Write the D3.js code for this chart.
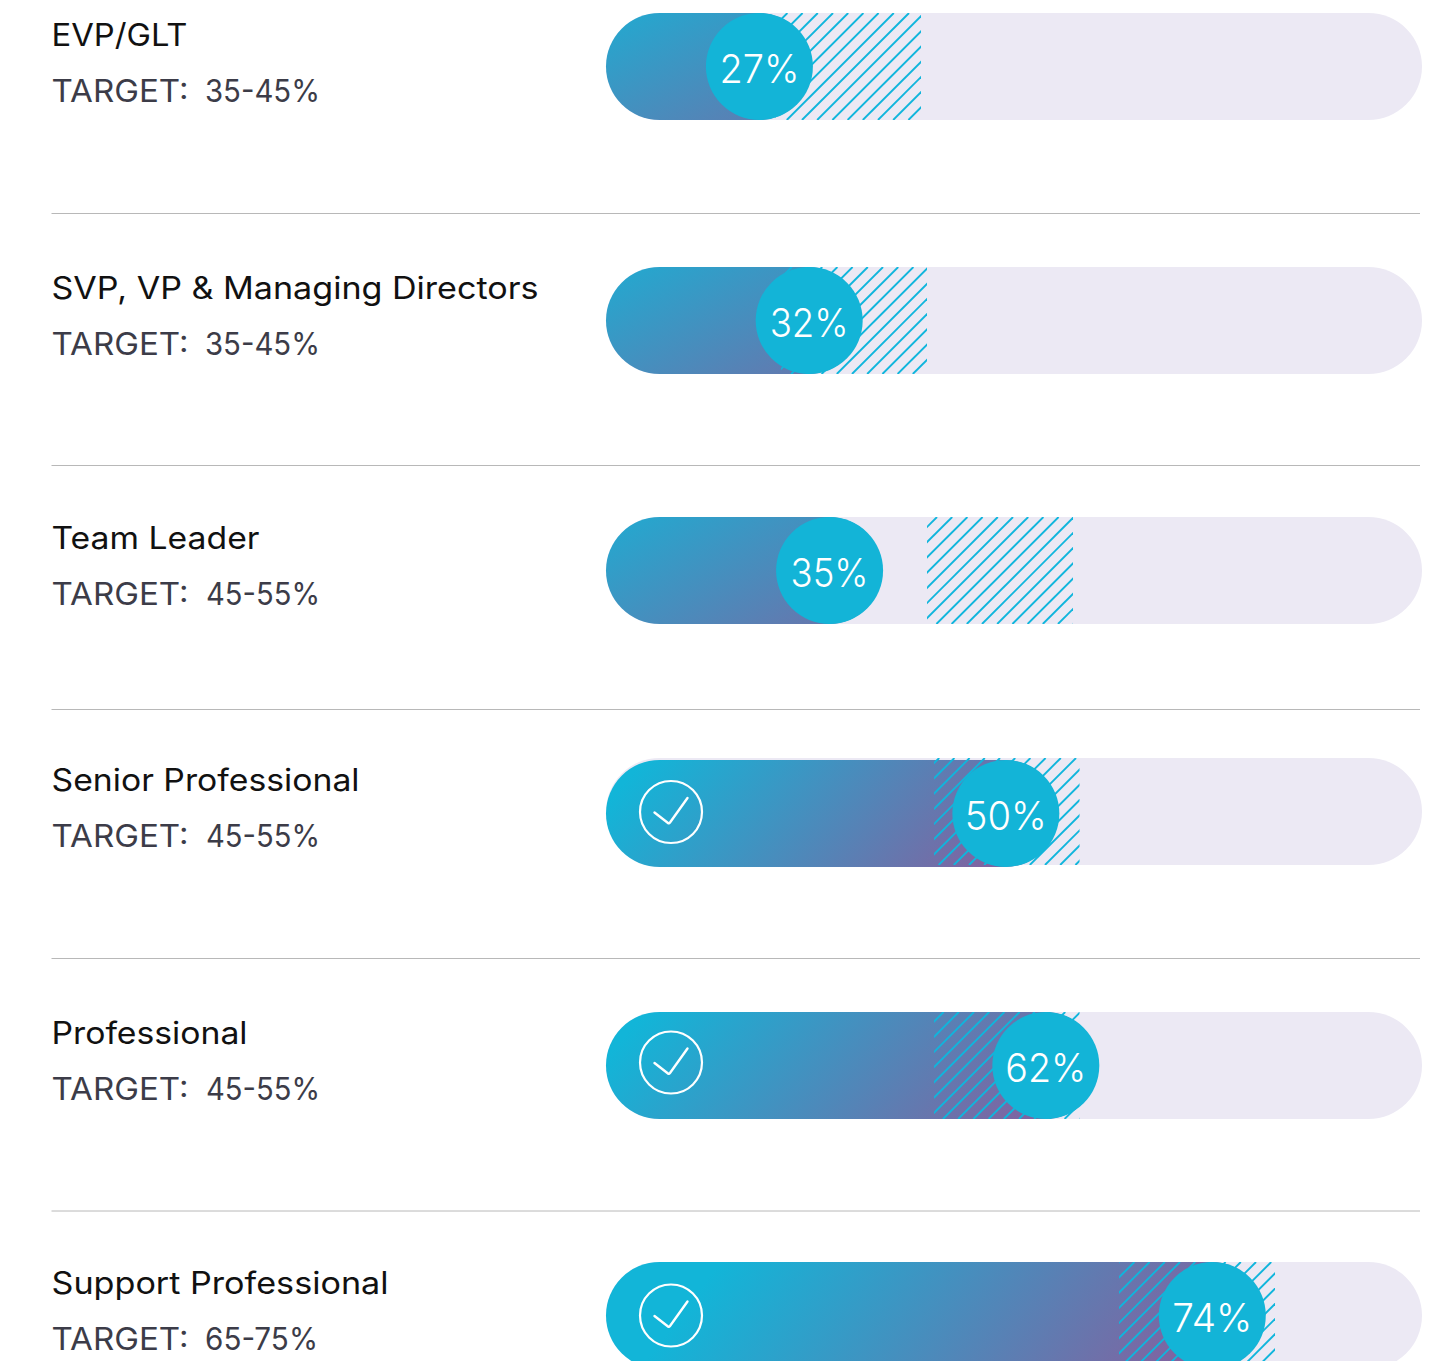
<!DOCTYPE html>
<html>
<head>
<meta charset="utf-8">
<script src="https://cdn.jsdelivr.net/npm/d3@7"></script>
<style>
  html, body { margin: 0; padding: 0; background: #fff; overflow: hidden; }
  text { font-family: Inter, "Open Sans", sans-serif; }
</style>
</head>
<body>
<svg id="chart"></svg>
<script>
const categories = ['EVP/GLT', 'SVP, VP & Managing Directors', 'Team Leader', 'Senior Professional', 'Professional', 'Support Professional']
const targetLabels = ['35-45%', '35-45%', '45-55%', '45-55%', '45-55%', '65-75%']
const valueLabels = ['27%', '32%', '35%', '50%', '62%', '74%']
const targetMet = [false, false, false, true, true, true]

// the graphic is not drawn to scale, so these are read as share of the track (0-100) as drawn
const markerOnTrack = [18.8, 24.9, 27.4, 49, 53.9, 74.3]
const targetLowOnTrack = [20.7, 21.45, 39.34, 40.2, 40.2, 62.87]
const targetHighOnTrack = [38.6, 39.34, 57.23, 58.03, 58.03, 81.98]

// vertical layout of the rows
const rowTops = [13, 267, 517, 758, 1012, 1262]
const ruleYs = [213.5, 465.5, 709.5, 958.5, 1211]
// hand placed offsets in the original
const fillNudge = [0, 0, 0, 2, 0, 0]
const tickNudge = [0, 0, 0, -1.5, -3, 0]
const textNudge = [1, 0, 0, 1, 0, 0]

// Montserrat is not available, so the nearest face is fitted to its widths
const nameWidths = [136, 487, 208, 308, 196, 337]
const rangeStarts = [205, 205, 206, 206, 206, 205]
const rangeWidths = [115, 115, 114, 114, 114, 113]
const valueWidths = [80, 79, 78, 82, 81, 80]

// gradient vector of each fill [x1, y1, x2, y2], relative to the row
const gradientVectors = [
  [-22, -38, 115, 239],
  [-22, -38, 125, 239],
  [-22, -38, 137, 239],
  [40, 0, 286, 216],
  [40, 0, 308, 236],
  [114, 0, 453, 254]
]

const width = 1435
const height = 1361
const barHeight = 107
const radius = barHeight / 2
const hatchStep = 15.2
const hatchPhase = 10

const svg = d3.select('#chart').attr('width', width).attr('height', height)
const defs = svg.append('defs')

const x = d3.scaleLinear().domain([0, 100]).range([606, 1422])
const y = d3.scaleOrdinal().domain(categories).range(rowTops)

// cyan to purple, one per row
gradientVectors.forEach((v, i) => {
  const gradient = defs.append('linearGradient')
    .attr('id', `fillGradient${i}`)
    .attr('gradientUnits', 'userSpaceOnUse')
    .attr('x1', x(0) + v[0]).attr('y1', v[1])
    .attr('x2', x(0) + v[2]).attr('y2', v[3])
  gradient.append('stop').attr('offset', '0%').attr('stop-color', '#12b5d8')
  gradient.append('stop').attr('offset', '100%').attr('stop-color', '#7f64a1')
})

// separators
svg.selectAll('.rule')
  .data(ruleYs)
  .enter().append('line')
  .attr('class', 'rule')
  .attr('x1', 51.5)
  .attr('x2', 1420)
  .attr('y1', d => d)
  .attr('y2', d => d)
  .attr('stroke', '#b8b8b8')
  .attr('stroke-width', 1)

const rows = svg.selectAll('.row')
  .data(categories)
  .enter().append('g')
  .attr('class', 'row')
  .attr('transform', d => `translate(0, ${y(d)})`)

// track
rows.append('rect')
  .attr('x', x(0))
  .attr('width', x(100) - x(0))
  .attr('height', barHeight)
  .attr('rx', radius)
  .attr('fill', '#ece9f4')

// fill runs under the marker, up to its far edge
rows.append('rect')
  .attr('x', x(0))
  .attr('y', (d, i) => fillNudge[i])
  .attr('width', (d, i) => x(markerOnTrack[i]) - x(0) + radius - 1)
  .attr('height', barHeight)
  .attr('rx', radius)
  .attr('fill', (d, i) => `url(#fillGradient${i})`)

// target band, diagonal lines clipped to the band
categories.forEach((name, i) => {
  const left = x(targetLowOnTrack[i])
  const right = x(targetHighOnTrack[i])
  const top = y(name)

  defs.append('clipPath')
    .attr('id', `band${i}`)
    .append('rect')
    .attr('x', left)
    .attr('width', right - left)
    .attr('height', barHeight)

  // every line sits on x + y = phase + n * step, in page coordinates
  const first = Math.floor((left + top) / hatchStep) - 1
  const last = Math.ceil((right + top + barHeight) / hatchStep) + 1
  const offsets = d3.range(first, last).map(n => n * hatchStep + hatchPhase - top)

  d3.select(rows.nodes()[i]).append('g')
    .attr('clip-path', `url(#band${i})`)
    .selectAll('line')
    .data(offsets)
    .enter().append('line')
    .attr('x1', d => d)
    .attr('y1', 0)
    .attr('x2', d => d - barHeight)
    .attr('y2', barHeight)
    .attr('stroke', '#10b5dc')
    .attr('stroke-width', 1.9)
})

// value marker
rows.append('circle')
  .attr('cx', (d, i) => x(markerOnTrack[i]))
  .attr('cy', (d, i) => radius + fillNudge[i])
  .attr('r', radius)
  .attr('fill', '#13b4d7')

rows.append('text')
  .attr('x', (d, i) => x(markerOnTrack[i]))
  .attr('y', (d, i) => radius + fillNudge[i] + 16.5)
  .attr('text-anchor', 'middle')
  .attr('font-size', 40)
  .attr('font-weight', 300)
  .attr('fill', '#fff')
  .attr('textLength', (d, i) => valueWidths[i])
  .attr('lengthAdjust', 'spacingAndGlyphs')
  .text((d, i) => valueLabels[i])

// check mark on rows that hit the target
const checks = rows.filter((d, i) => targetMet[i])
  .append('g')
  .attr('transform', d => {
    const i = categories.indexOf(d)
    return `translate(671, ${radius + fillNudge[i] + tickNudge[i]})`
  })

checks.append('circle')
  .attr('r', 31)
  .attr('fill', 'none')
  .attr('stroke', '#fff')
  .attr('stroke-width', 2.2)

checks.append('path')
  .attr('d', 'M-16.5,0.5L-3,11Q-2,11.8 -1,10.5L16.5,-14')
  .attr('fill', 'none')
  .attr('stroke', '#fff')
  .attr('stroke-width', 2.4)
  .attr('stroke-linecap', 'round')

// row labels
rows.append('text')
  .attr('x', 51.5)
  .attr('y', (d, i) => 32 + textNudge[i])
  .attr('font-size', 31)
  .attr('fill', '#111')
  .attr('textLength', (d, i) => nameWidths[i])
  .attr('lengthAdjust', 'spacingAndGlyphs')
  .text(d => d)

rows.append('text')
  .attr('x', 51.5)
  .attr('y', (d, i) => 88 + textNudge[i])
  .attr('font-size', 31)
  .attr('fill', '#3c3c48')
  .attr('textLength', 137)
  .attr('lengthAdjust', 'spacingAndGlyphs')
  .text('TARGET:')

rows.append('text')
  .attr('x', (d, i) => rangeStarts[i])
  .attr('y', (d, i) => 88 + textNudge[i])
  .attr('font-size', 31)
  .attr('fill', '#3c3c48')
  .attr('textLength', (d, i) => rangeWidths[i])
  .attr('lengthAdjust', 'spacingAndGlyphs')
  .text((d, i) => targetLabels[i])
</script>
</body>
</html>
